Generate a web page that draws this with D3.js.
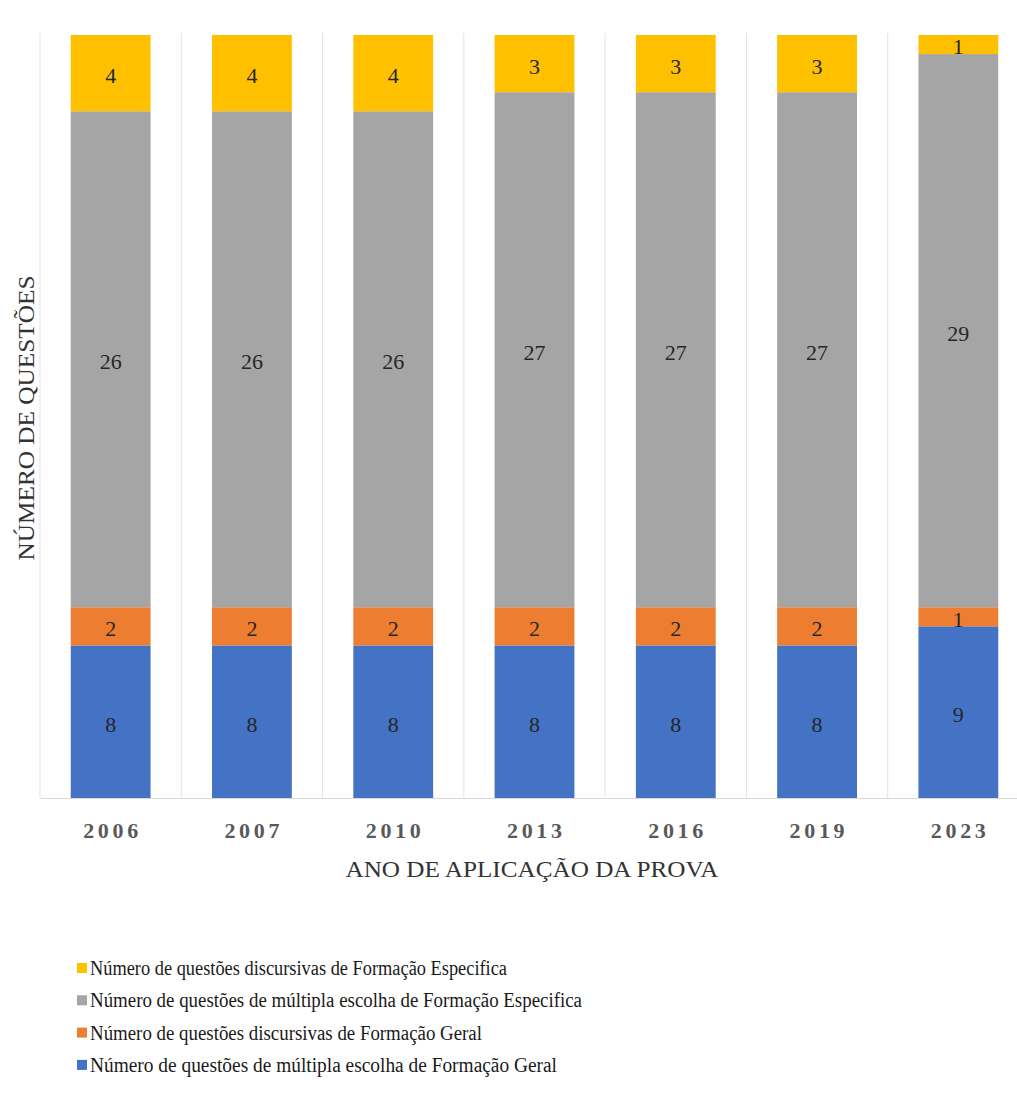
<!DOCTYPE html>
<html>
<head>
<meta charset="utf-8">
<script src="https://cdn.jsdelivr.net/npm/d3@7"></script>
<style>
  body { margin: 0; background: #fff; }
</style>
</head>
<body>
<div id="vis"></div>
<script>
// anos de aplicação
const years = ["2006", "2007", "2010", "2013", "2016", "2019", "2023"];
// séries (de baixo para cima)
const mcGeral = [8, 8, 8, 8, 8, 8, 9];
const discGeral = [2, 2, 2, 2, 2, 2, 1];
const mcEspecifica = [26, 26, 26, 27, 27, 27, 29];
const discEspecifica = [4, 4, 4, 3, 3, 3, 1];

const seriesNames = [
  "Número de questões de múltipla escolha de Formação Geral",
  "Número de questões discursivas de Formação Geral",
  "Número de questões de múltipla escolha de Formação Especifica",
  "Número de questões discursivas de Formação Especifica"
];
const seriesKeys = ["mcGeral", "discGeral", "mcEspecifica", "discEspecifica"];
const colors = ["#4472C4", "#ED7D31", "#A5A5A5", "#FFC000"];
// widths the legend lines take in the original (narrow Times face)
const legendWidths = [467, 392, 492, 417];

const FONT = "'Liberation Serif', 'Times New Roman', 'DejaVu Serif', serif";

const rows = years.map((y, i) => ({
  year: y,
  mcGeral: mcGeral[i],
  discGeral: discGeral[i],
  mcEspecifica: mcEspecifica[i],
  discEspecifica: discEspecifica[i]
}));

const width = 1017, height = 1095;
const margin = { top: 35, left: 40, bottom: 297 };
const plotW = 989; // plot continues a bit past the right edge (cropped)
const plotH = height - margin.top - margin.bottom;

const svg = d3.select("#vis").append("svg")
  .attr("width", width)
  .attr("height", height)
  .style("font-family", FONT);

const g = svg.append("g").attr("transform", `translate(${margin.left},${margin.top})`);

const x = d3.scaleBand().domain(years).range([0, plotW]).paddingInner(0.435).paddingOuter(0.2175);
const y = d3.scaleLinear().domain([0, 40]).range([plotH, 0]);

// vertical separators between categories
const step = x.step();
const bounds = d3.range(years.length + 1).map(i => i * step);
g.selectAll("line.grid").data(bounds).join("line")
  .attr("class", "grid")
  .attr("x1", d => d).attr("x2", d => d)
  .attr("y1", -2).attr("y2", plotH)
  .attr("stroke", "#e3e3e3").attr("stroke-width", 1);

const stack = d3.stack().keys(seriesKeys)(rows);

const layers = g.selectAll("g.layer").data(stack).join("g")
  .attr("class", "layer")
  .attr("fill", (d, i) => colors[i]);

layers.selectAll("rect").data(d => d).join("rect")
  .attr("x", d => x(d.data.year))
  .attr("width", x.bandwidth())
  .attr("y", d => y(d[1]))
  .attr("height", d => y(d[0]) - y(d[1]));

layers.selectAll("text").data(d => d.map(v => Object.assign(v, { key: d.key }))).join("text")
  .attr("x", d => x(d.data.year) + x.bandwidth() / 2)
  .attr("y", d => (y(d[0]) + y(d[1])) / 2)
  .attr("dy", "0.45em")
  .attr("text-anchor", "middle")
  .attr("fill", "#262626")
  .attr("font-size", 22)
  .style("font-family", FONT)
  .text(d => d.data[d.key]);

// x axis baseline
const xAxis = g.append("g").attr("transform", `translate(0,${plotH})`)
  .call(d3.axisBottom(x).tickSize(0).tickPadding(24));
xAxis.attr("font-family", null).attr("font-size", null);
xAxis.select(".domain").attr("stroke", "#d9d9d9");
xAxis.selectAll("text")
  .attr("font-size", 22)
  .attr("fill", "#595959")
  .attr("font-weight", "bold")
  .attr("textLength", 55)
  .attr("lengthAdjust", "spacing")
  .style("font-family", FONT);

// axis titles
svg.append("text")
  .attr("x", 532).attr("y", 877)
  .attr("text-anchor", "middle")
  .attr("font-size", 23)
  .attr("fill", "#333")
  .attr("textLength", 373)
  .attr("lengthAdjust", "spacingAndGlyphs")
  .style("font-family", FONT)
  .text("ANO DE APLICAÇÃO DA PROVA");

svg.append("text")
  .attr("transform", "translate(34,418) rotate(-90)")
  .attr("text-anchor", "middle")
  .attr("font-size", 23)
  .attr("fill", "#333")
  .attr("textLength", 285)
  .attr("lengthAdjust", "spacingAndGlyphs")
  .style("font-family", FONT)
  .text("NÚMERO DE QUESTÕES");

// legend (top entry is the top series)
const legend = svg.append("g").attr("transform", "translate(77,968)");
const legendOrder = [3, 2, 1, 0];
legendOrder.forEach((si, row) => {
  const ly = row * 32.3;
  legend.append("rect")
    .attr("x", 0).attr("y", ly - 5)
    .attr("width", 10).attr("height", 10)
    .attr("fill", colors[si]);
  legend.append("text")
    .attr("x", 13).attr("y", ly)
    .attr("dy", "0.35em")
    .attr("font-size", 20)
    .attr("fill", "#1a1a1a")
    .attr("textLength", legendWidths[si])
    .attr("lengthAdjust", "spacingAndGlyphs")
    .style("font-family", FONT)
    .text(seriesNames[si]);
});
</script>
</body>
</html>
